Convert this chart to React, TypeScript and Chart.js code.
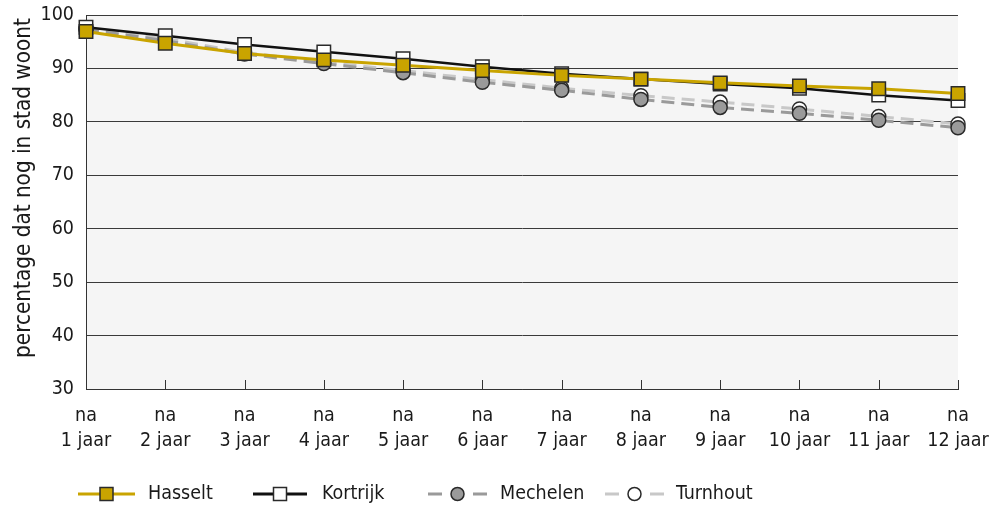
import React, { useEffect, useRef } from "react";
import { Chart, registerables } from "chart.js";

Chart.register(...registerables);

const categories: string[][] = [
  ["na", "1 jaar"], ["na", "2 jaar"], ["na", "3 jaar"], ["na", "4 jaar"],
  ["na", "5 jaar"], ["na", "6 jaar"], ["na", "7 jaar"], ["na", "8 jaar"],
  ["na", "9 jaar"], ["na", "10 jaar"], ["na", "11 jaar"], ["na", "12 jaar"],
];
const hasselt = [96.9, 94.7, 92.8, 91.6, 90.6, 89.6, 88.7, 88.0, 87.3, 86.7, 86.2, 85.3];
const kortrijk = [97.7, 96.1, 94.5, 93.1, 91.8, 90.3, 89.0, 88.0, 87.1, 86.3, 85.0, 84.0];
const mechelen = [97.3, 95.2, 92.7, 90.9, 89.2, 87.4, 85.9, 84.2, 82.7, 81.6, 80.3, 78.9];
const turnhout = [97.5, 95.6, 93.0, 91.2, 89.6, 87.9, 86.3, 84.9, 83.7, 82.4, 81.0, 79.6];
const yTitle = "percentage dat nog in stad woont";
const yMin = 30;
const yMax = 100;

const FONT = "'DejaVu Sans Condensed', 'DejaVu Sans', sans-serif";
const GOLD = "#c9a400";
const EDGE = "#2a2a2a";
const TXT = 19.5;

type LegendItem = { label: string; color: string; dash: boolean; style: "rect" | "circle"; fill: string; x0: number; x1: number; tx: number };
const legendItems: LegendItem[] = [
  { label: "Hasselt", color: GOLD, dash: false, style: "rect", fill: GOLD, x0: 78, x1: 135, tx: 148 },
  { label: "Kortrijk", color: "#111111", dash: false, style: "rect", fill: "#ffffff", x0: 253, x1: 307, tx: 322 },
  { label: "Mechelen", color: "#9a9a9a", dash: true, style: "circle", fill: "#9a9a9a", x0: 428, x1: 487, tx: 500 },
  { label: "Turnhout", color: "#c8c8c8", dash: true, style: "circle", fill: "#ffffff", x0: 605, x1: 664, tx: 676 },
];

const decorPlugin = {
  id: "decor",
  beforeDraw(chart: any) {
    const { ctx, chartArea } = chart;
    ctx.save();
    ctx.fillStyle = "#f5f5f5";
    ctx.fillRect(chartArea.left, chartArea.top, chartArea.right - chartArea.left, chartArea.bottom - chartArea.top);
    ctx.restore();
  },
  beforeDatasetsDraw(chart: any) {
    const { ctx, chartArea } = chart;
    const xs = chart.scales.x;
    ctx.save();
    ctx.strokeStyle = "#333333";
    ctx.lineWidth = 1;
    for (let i = 1; i < categories.length; i++) {
      const x = Math.round(xs.getPixelForValue(i)) + 0.5;
      ctx.beginPath();
      ctx.moveTo(x, chartArea.bottom - 9);
      ctx.lineTo(x, chartArea.bottom);
      ctx.stroke();
    }
    ctx.restore();
  },
  afterDraw(chart: any) {
    const { ctx } = chart;
    ctx.save();
    ctx.translate(24, 188);
    ctx.rotate(-Math.PI / 2);
    ctx.fillStyle = "#1a1a1a";
    ctx.font = `22.3px ${FONT}`;
    ctx.textAlign = "center";
    ctx.textBaseline = "middle";
    ctx.fillText(yTitle, 0, 0);
    ctx.restore();

    const ly = 494;
    ctx.save();
    for (const it of legendItems) {
      const mx = (it.x0 + it.x1) / 2;
      ctx.strokeStyle = it.color;
      ctx.lineWidth = 3;
      ctx.beginPath();
      if (it.dash) {
        ctx.moveTo(it.x0, ly);
        ctx.lineTo(it.x0 + 14, ly);
        ctx.moveTo(it.x1 - 14, ly);
        ctx.lineTo(it.x1, ly);
      } else {
        ctx.moveTo(it.x0, ly);
        ctx.lineTo(it.x1, ly);
      }
      ctx.stroke();
      ctx.lineWidth = 1.5;
      ctx.strokeStyle = EDGE;
      ctx.fillStyle = it.fill;
      ctx.beginPath();
      if (it.style === "rect") {
        ctx.rect(mx - 6.5, ly - 6.5, 13, 13);
      } else {
        ctx.arc(mx, ly, 6.5, 0, Math.PI * 2);
      }
      ctx.fill();
      ctx.stroke();
      ctx.fillStyle = "#1a1a1a";
      ctx.font = `${TXT}px ${FONT}`;
      ctx.textAlign = "left";
      ctx.textBaseline = "middle";
      ctx.fillText(it.label, it.tx, ly);
    }
    ctx.restore();
  },
};

export default function App() {
  const ref = useRef<HTMLCanvasElement | null>(null);
  useEffect(() => {
    document.body.style.margin = "0";
    const canvas = ref.current;
    if (!canvas) return;
    const common = { clip: false as any, pointBorderWidth: 1.5, pointBorderColor: EDGE, tension: 0 };
    const chart = new Chart(canvas, {
      type: "line",
      data: {
        labels: categories,
        datasets: [
          { ...common, label: "Hasselt", data: hasselt, borderColor: GOLD, borderWidth: 3, pointStyle: "rect", pointRadius: 9.5, pointBackgroundColor: GOLD },
          { ...common, label: "Kortrijk", data: kortrijk, borderColor: "#111111", borderWidth: 2.5, pointStyle: "rect", pointRadius: 9.5, pointBackgroundColor: "#ffffff" },
          { ...common, label: "Mechelen", data: mechelen, borderColor: "#9a9a9a", borderWidth: 3, borderDash: [13, 7], pointStyle: "circle", pointRadius: 7, pointBackgroundColor: "#9a9a9a" },
          { ...common, label: "Turnhout", data: turnhout, borderColor: "#c8c8c8", borderWidth: 3, borderDash: [13, 7], pointStyle: "circle", pointRadius: 7, pointBackgroundColor: "#ffffff" },
        ],
      },
      options: {
        responsive: false,
        animation: false,
        layout: { padding: { top: 15, right: 45, bottom: 44, left: 0 } },
        plugins: { legend: { display: false }, tooltip: { enabled: false } },
        scales: {
          x: {
            type: "category",
            offset: false,
            grid: { display: true, drawOnChartArea: false, drawTicks: false },
            border: { display: true, color: "#333333", width: 1 },
            ticks: {
              color: "#1a1a1a",
              font: { family: FONT, size: TXT, lineHeight: 1.3 },
              padding: 14,
              maxRotation: 0,
              autoSkip: false,
            },
            afterFit: (s: any) => { s.height = 75; s.paddingLeft = 0; s.paddingRight = 0; },
          },
          y: {
            min: yMin,
            max: yMax,
            grid: { color: "#3a3a3a", lineWidth: 1, drawTicks: false },
            border: { display: true, color: "#333333", width: 1 },
            ticks: {
              stepSize: 10,
              color: "#1a1a1a",
              font: { family: FONT, size: TXT },
              padding: 12,
            },
            afterFit: (s: any) => { s.width = 86; s.paddingTop = 0; s.paddingBottom = 0; },
          },
        },
      },
      plugins: [decorPlugin],
    } as any);
    return () => chart.destroy();
  }, []);
  return (
    <div style={{ position: "fixed", left: 0, top: 0, width: 1003, height: 508 }}>
      <canvas ref={ref} width={1003} height={508} />
    </div>
  );
}
